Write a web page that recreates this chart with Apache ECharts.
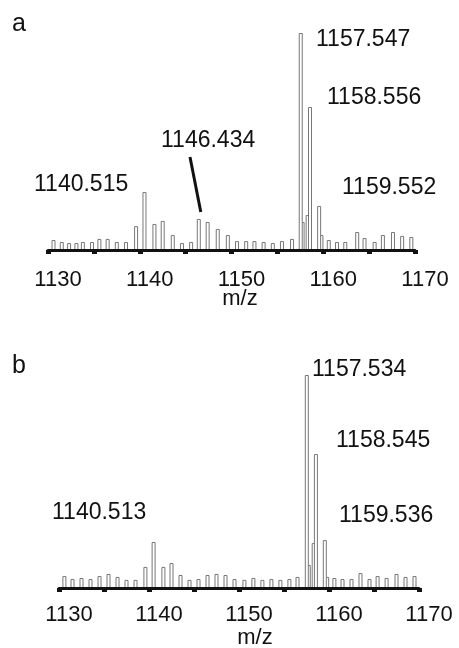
<!DOCTYPE html>
<html>
<head>
<meta charset="utf-8">
<script src="https://cdn.jsdelivr.net/npm/echarts@6/dist/echarts.min.js"></script>
<style>
  html, body { margin: 0; padding: 0; background: #fff; }
  #c { width: 459px; height: 648px; }
</style>
</head>
<body>
<div id="c"></div>
<script>
// Spectrum a: centroid m/z and relative intensity (%)
const mzA = [1130.6, 1131.5, 1132.3, 1133.1, 1133.8, 1134.8, 1135.6, 1136.5, 1137.5, 1138.5,
             1139.6, 1140.515, 1141.6, 1142.5, 1143.6, 1144.6, 1145.6, 1146.434, 1147.4, 1148.5,
             1149.6, 1150.6, 1151.6, 1152.5, 1153.5, 1154.5, 1155.5, 1156.6, 1157.547, 1158.556,
             1159.552, 1160.6, 1161.5, 1162.4, 1163.7, 1164.5, 1165.6, 1166.5, 1167.6, 1168.6, 1169.6];
const intA = [4.6, 3.7, 3.2, 3.2, 3.7, 3.7, 5.1, 5.1, 3.7, 3.7,
              11.0, 26.7, 12.0, 13.4, 6.9, 3.2, 3.7, 14.3, 12.9, 9.7,
              6.9, 4.1, 4.1, 4.1, 3.7, 3.2, 4.1, 5.1, 100, 65.9,
              20.3, 4.6, 3.7, 3.7, 8.3, 5.5, 3.7, 6.9, 8.3, 6.5, 6.0];
// Shoulders at the base of the isotope cluster (a)
const shoulderMzA = [1157.75, 1158.3, 1159.8];
const shoulderIntA = [12.9, 16.1, 6.9];

// Spectrum b
const mzB = [1130.6, 1131.5, 1132.5, 1133.5, 1134.5, 1135.5, 1136.5, 1137.5, 1138.5, 1139.6,
             1140.513, 1141.6, 1142.5, 1143.5, 1144.5, 1145.5, 1146.5, 1147.5, 1148.5, 1149.5,
             1150.6, 1151.6, 1152.6, 1153.6, 1154.6, 1155.6, 1156.5, 1157.534, 1158.545, 1159.536,
             1160.6, 1161.5, 1162.5, 1163.5, 1164.5, 1165.4, 1166.4, 1167.5, 1168.5, 1169.5];
const intB = [5.6, 4.2, 4.7, 4.2, 5.6, 6.6, 5.2, 3.8, 3.8, 9.9,
              21.6, 9.9, 11.7, 6.1, 3.8, 4.2, 6.1, 6.6, 6.1, 4.2,
              3.8, 4.7, 3.8, 4.2, 3.8, 4.2, 5.2, 100, 62.9, 22.5,
              4.7, 4.2, 4.2, 7.0, 4.2, 5.6, 4.7, 6.6, 5.2, 5.6];
const shoulderMzB = [1157.75, 1158.3, 1159.8];
const shoulderIntB = [10.8, 21.1, 5.2];

// Annotated peaks
const labelsA = [1140.515, 1146.434, 1157.547, 1158.556, 1159.552];
const labelsB = [1140.513, 1157.534, 1158.545, 1159.536];

// Axis range and labelled ticks
const xMin = 1130, xMax = 1170, xStep = 5;
const xTickLabels = [1130, 1140, 1150, 1160, 1170];
const xTitle = 'm/z';
const panelNames = ['a', 'b'];

const FONT = '"Liberation Sans", Arial, Helvetica, sans-serif';
const INK = '#111';
const PEAK = '#777';

const pairs = (xs, ys) => xs.map((x, i) => [x, ys[i]]);

function xAxisFor(gridIndex, margin) {
  return {
    type: 'value', gridIndex, min: xMin, max: xMax, interval: xStep, z: 5,
    axisLine: { show: true, lineStyle: { color: INK, width: 3 } },
    axisTick: { show: true, length: 4, inside: false, lineStyle: { color: INK, width: 5 } },
    splitLine: { show: false },
    axisLabel: {
      show: true, margin, color: INK, fontSize: 22, fontFamily: FONT,
      padding: [0, 0, 0, 20],
      formatter: v => (xTickLabels.indexOf(v) >= 0 ? String(v) : '')
    }
  };
}

function yAxisFor(gridIndex) {
  return { type: 'value', gridIndex, min: 0, max: 100, show: false };
}

function peakSeries(idx, data, z) {
  return {
    type: 'bar', xAxisIndex: idx, yAxisIndex: idx, data, z,
    barWidth: 4, barGap: '-100%', silent: true, animation: false,
    itemStyle: { color: '#fff', borderColor: PEAK, borderWidth: 1 }
  };
}

const chart = echarts.init(document.getElementById('c'), null, { renderer: 'canvas' });

chart.setOption({
  backgroundColor: '#fff',
  animation: false,
  grid: [
    { left: 48, top: 33, width: 367, height: 217 },
    { left: 59, top: 375, width: 360, height: 213 }
  ],
  xAxis: [xAxisFor(0, 19), xAxisFor(1, 16)],
  yAxis: [yAxisFor(0), yAxisFor(1)],
  series: [
    peakSeries(0, pairs(shoulderMzA, shoulderIntA), 1),
    peakSeries(0, pairs(mzA, intA), 2),
    peakSeries(1, pairs(shoulderMzB, shoulderIntB), 1),
    peakSeries(1, pairs(mzB, intB), 2)
  ]
});

// Annotation text placement (left x, vertical centre y) for each labelled peak
const placeA = [[34, 185], [161, 141], [316, 40], [327, 98], [342, 188]];
const placeB = [[52, 513], [312, 370], [336, 441], [339, 516]];

function text(str, x, y, size, align) {
  return {
    type: 'text', x, y, silent: true, z: 10,
    style: {
      text: str, fill: INK, font: size + 'px ' + FONT,
      align: align || 'left', verticalAlign: 'middle'
    }
  };
}

const graphics = [];
labelsA.forEach((v, i) => graphics.push(text(v.toFixed(3), placeA[i][0], placeA[i][1], 23)));
labelsB.forEach((v, i) => graphics.push(text(v.toFixed(3), placeB[i][0], placeB[i][1], 23)));

// Leader from the 1146.434 label down to its peak
const leadIdx = mzA.indexOf(labelsA[1]);
const tip = chart.convertToPixel({ gridIndex: 0 }, [mzA[leadIdx], intA[leadIdx]]);
graphics.push({
  type: 'line', silent: true, z: 10,
  shape: { x1: 190, y1: 157, x2: tip[0] + 2, y2: tip[1] - 7 },
  style: { stroke: INK, lineWidth: 3 }
});

// Axis titles and panel letters
graphics.push(text(xTitle, 240, 299, 22, 'center'));
graphics.push(text(xTitle, 255, 638, 22, 'center'));
graphics.push(text(panelNames[0], 12, 24, 25));
graphics.push(text(panelNames[1], 12, 366, 25));

chart.setOption({ graphic: graphics });
</script>
</body>
</html>
